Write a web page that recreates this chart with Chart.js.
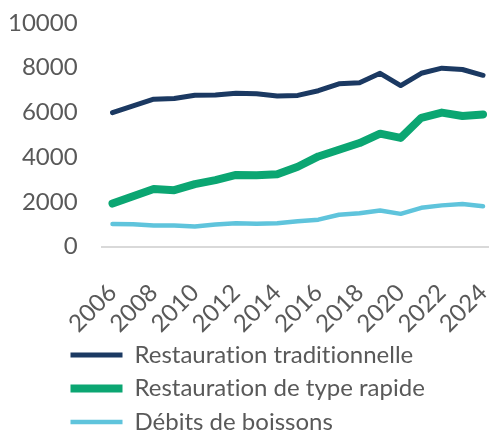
<!DOCTYPE html>
<html>
<head>
<meta charset="utf-8">
<script src="https://cdn.jsdelivr.net/npm/chart.js@4.4.0/dist/chart.umd.min.js"></script>
<style>
  html, body { margin: 0; padding: 0; background: #fff; }
  #wrap { width: 489px; height: 431px; }
</style>
</head>
<body>
<div id="wrap"><canvas id="myChart"></canvas></div>
<script>
var years = [2006, 2007, 2008, 2009, 2010, 2011, 2012, 2013, 2014, 2015, 2016, 2017, 2018, 2019, 2020, 2021, 2022, 2023, 2024];
var traditionnelle = [5990, 6290, 6590, 6620, 6770, 6780, 6860, 6830, 6730, 6760, 6970, 7280, 7330, 7750, 7200, 7750, 7980, 7920, 7660];
var rapide = [1920, 2250, 2570, 2520, 2790, 2970, 3200, 3190, 3230, 3570, 4030, 4330, 4630, 5050, 4860, 5760, 5990, 5840, 5910];
var boissons = [1010, 1000, 940, 940, 900, 980, 1040, 1020, 1040, 1130, 1200, 1420, 1490, 1610, 1460, 1730, 1840, 1900, 1800];
var yTicks = [0, 2000, 4000, 6000, 8000, 10000];

function pts(vals) {
  return years.map(function (y, i) { return { x: y, y: vals[i] }; });
}

var grey = '#595959';
var clear = 'rgba(0,0,0,0)';
Chart.defaults.font.family = 'Lato, "Open Sans", sans-serif';
Chart.defaults.color = grey;

// legend tweaks: shift it right, and take a bit less room at the bottom
var legendTweak = {
  id: 'legendTweak',
  beforeLayout: function (chart) {
    var lg = chart.legend;
    if (lg && !lg._wrapped) {
      var fit = lg.fit;
      lg.fit = function () {
        fit.apply(this, arguments);
        this.height -= 13;
      };
      lg._wrapped = true;
    }
  },
  afterLayout: function (chart) {
    if (chart.legend) chart.legend.left = 61;
  },
  beforeDraw: function (chart) {
    // no "ti" ligatures
    chart.ctx.textRendering = 'optimizeSpeed';
  }
};

var ctx = document.getElementById('myChart').getContext('2d');
var chart = new Chart(ctx, {
  type: 'line',
  data: {
    datasets: [{
      label: 'Restauration traditionnelle',
      data: pts(traditionnelle),
      borderColor: '#1b3962',
      backgroundColor: '#1b3962',
      borderWidth: 5
    }, {
      label: 'Restauration de type rapide',
      data: pts(rapide),
      borderColor: '#0ba672',
      backgroundColor: '#0ba672',
      borderWidth: 8
    }, {
      label: 'Débits de boissons',
      data: pts(boissons),
      borderColor: '#5fc4dc',
      backgroundColor: '#5fc4dc',
      borderWidth: 4.5
    }]
  },
  plugins: [legendTweak],
  options: {
    responsive: true,
    maintainAspectRatio: false,
    animation: false,
    layout: { padding: { top: 23, right: 0, left: 8, bottom: 0 } },
    elements: {
      point: { radius: 0 },
      line: { borderCapStyle: 'round', borderJoinStyle: 'round', tension: 0 }
    },
    scales: {
      x: {
        type: 'linear',
        min: 2005.47,
        max: 2024.29,
        grid: { display: false },
        border: { display: true, color: '#d9d9d9', width: 2 },
        afterBuildTicks: function (axis) {
          axis.ticks = years.filter(function (y) { return y % 2 === 0; }).map(function (y) { return { value: y }; });
        },
        afterFit: function (axis) {
          axis.paddingRight = 0;
          axis.height = 87;
        },
        ticks: {
          autoSkip: false,
          maxRotation: 45,
          minRotation: 45,
          padding: 24,
          font: { size: 24 },
          callback: function (v) { return String(v); }
        }
      },
      y: {
        min: 0,
        max: 10000,
        // invisible tick marks, used only as spacing
        grid: { display: true, drawOnChartArea: false, tickLength: 24, tickColor: clear, color: clear },
        border: { display: false },
        afterBuildTicks: function (axis) {
          axis.ticks = yTicks.map(function (v) { return { value: v }; });
        },
        ticks: {
          padding: 0,
          font: { size: 24 },
          callback: function (v) { return String(v); }
        }
      }
    },
    plugins: {
      tooltip: { enabled: false },
      legend: {
        position: 'bottom',
        align: 'start',
        labels: {
          usePointStyle: true,
          pointStyle: 'line',
          pointStyleWidth: 52,
          padding: 9.5,
          font: { size: 24 },
          color: grey
        }
      }
    }
  }
});
</script>
</body>
</html>
